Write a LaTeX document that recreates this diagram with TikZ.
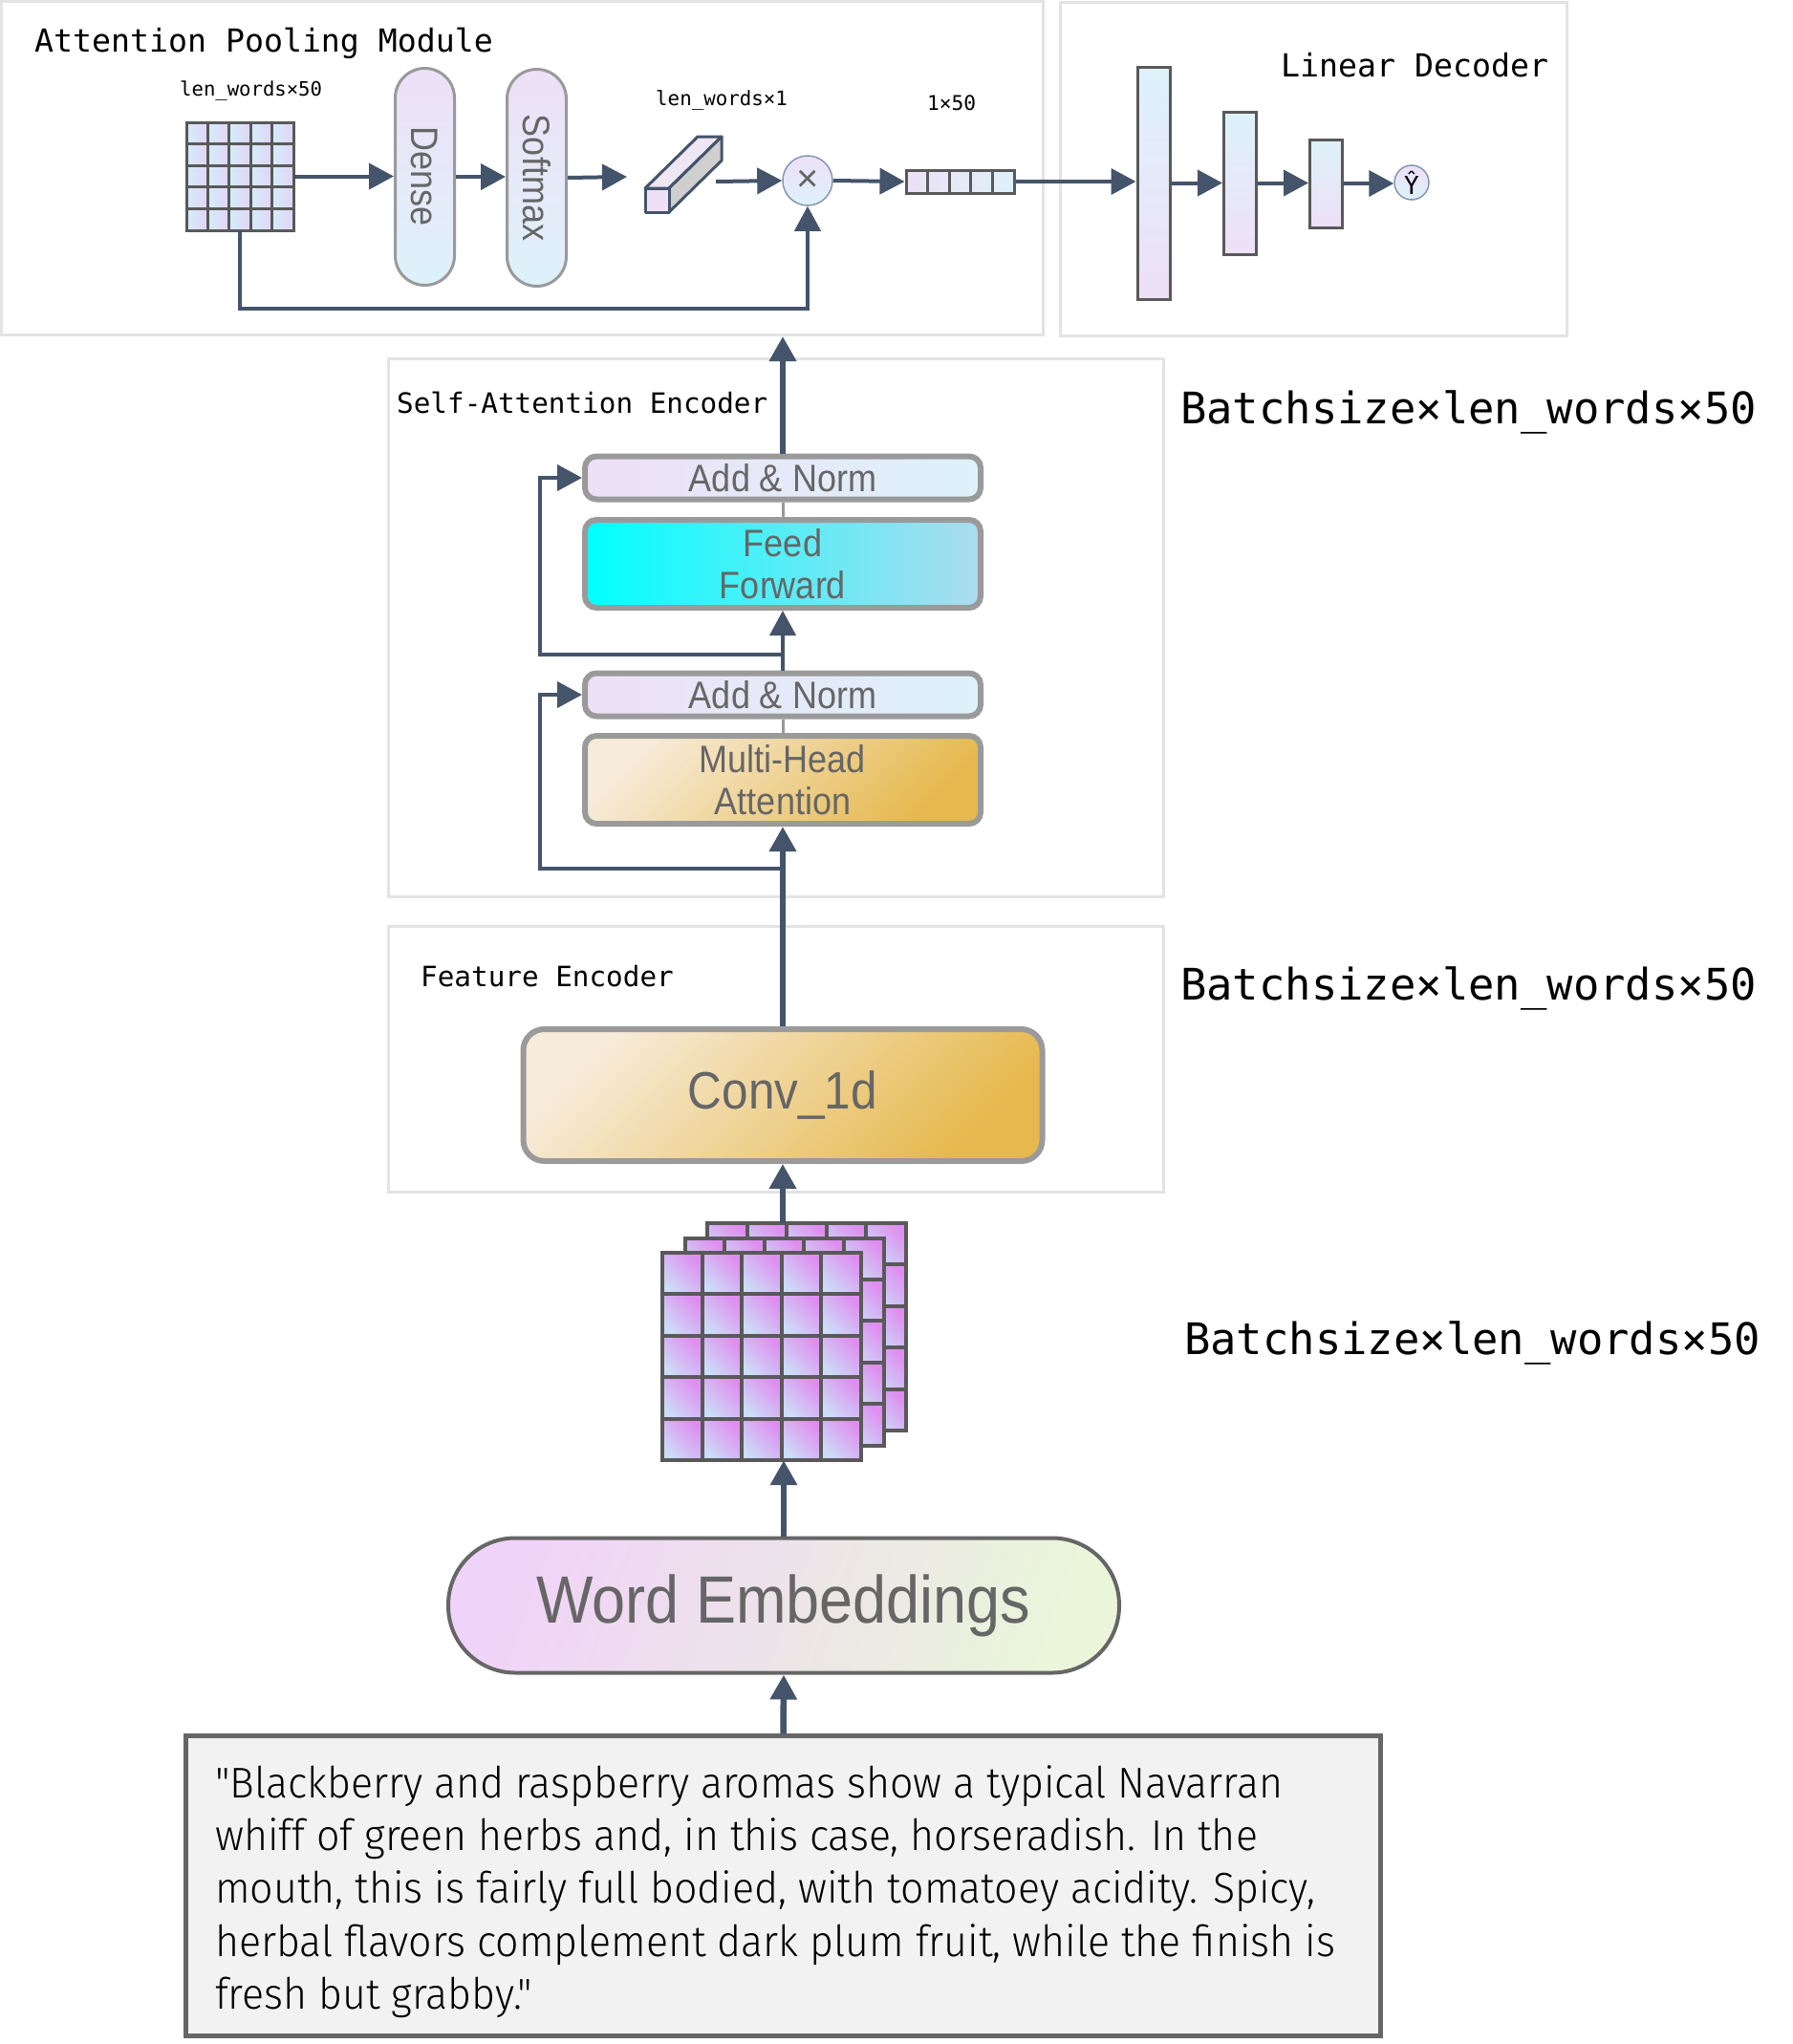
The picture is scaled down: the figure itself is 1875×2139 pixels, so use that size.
\documentclass[tikz,border=0pt]{standalone}
\usepackage{fontspec}
\usepackage{graphicx}
\setmainfont{Liberation Sans}
\newfontfamily\nodefont[FakeStretch=0.9]{Liberation Sans}
\newfontfamily\monofont{DejaVu Sans Mono}
\newfontfamily\lightfont[FakeStretch=0.953]{Fira Sans Light}
\usetikzlibrary{arrows.meta,calc}
\definecolor{linec}{HTML}{44546A}
\definecolor{grpc}{HTML}{E3E3E3}
\definecolor{nbord}{HTML}{9A9A9A}
\definecolor{ntext}{HTML}{666666}
\definecolor{dbord}{HTML}{666666}
\definecolor{gridc}{HTML}{595959}
\definecolor{lav}{HTML}{EEE0F7}
\definecolor{lcyan}{HTML}{DDF2FA}
\definecolor{beige}{HTML}{F7EBD9}
\definecolor{gold}{HTML}{E6B94E}
\definecolor{cyanA}{HTML}{00FFFF}
\definecolor{cyanB}{HTML}{ADDBEE}
\definecolor{pinkA}{HTML}{F0D3F8}
\definecolor{greenB}{HTML}{EAF5DA}
\definecolor{boxgray}{HTML}{F2F2F2}
\definecolor{cellA}{HTML}{CBDDF7}
\definecolor{cellB}{HTML}{DF8DF0}
\definecolor{matA}{HTML}{D3EEFA}
\definecolor{matB}{HTML}{E3D3F5}
\definecolor{circb}{HTML}{8497B0}
\definecolor{topface}{HTML}{EEE6F3}
\definecolor{sideface}{HTML}{CFCFCF}
\tikzset{
  grp/.style={draw=grpc, line width=3pt, inner sep=0pt},
  conn/.style={draw=linec, line width=4pt, -{Triangle[length=26pt,width=27pt]}},
  mainln/.style={draw=linec, line width=6.5pt, -{Triangle[length=26pt,width=27pt]}},
  joinln/.style={draw=nbord, line width=3pt},
  blk/.style={draw=nbord, line width=6pt, rounded corners=12pt, text=ntext, inner sep=0pt, align=center,
    minimum width=414pt, font=\nodefont\fontsize{40}{44}\selectfont},
  addnorm/.style={blk, minimum height=45pt, left color=lav, right color=lcyan},
  goldblk/.style={top color=beige, bottom color=gold, shading angle=45},
  pill/.style={draw=nbord, line width=3pt, minimum width=62pt, minimum height=227pt, rounded corners=31pt,
    top color=lav, bottom color=lcyan, text=ntext, inner sep=0pt, font=\nodefont\fontsize{40}{40}\selectfont},
  dbar/.style={draw=gridc, line width=3pt, minimum width=34pt, inner sep=0pt, top color=lcyan, bottom color=lav},
  gridline/.style={draw=gridc, line width=4pt, line cap=rect},
  lbl/.style={inner sep=0pt, anchor=base west, text=black},
}
\begin{document}
\begin{tikzpicture}[x=1pt,y=-1pt]
\useasboundingbox (0,0) rectangle (1875,2139);

% ---------- group boxes ----------
\node[grp, minimum width=1090pt, minimum height=349pt] (apm) at (546.5,176) {};
\node[grp, minimum width=530pt, minimum height=349pt] (ldec) at (1374.5,177) {};
\node[grp, minimum width=811pt, minimum height=563pt] (sae) at (812,657) {};
\node[grp, minimum width=811pt, minimum height=278pt] (fenc) at (812,1108.5) {};

\node[lbl, font=\monofont\fontsize{33.2}{36}\selectfont] (t1) at (36,54) {Attention Pooling Module};
\node[lbl, font=\monofont\fontsize{33.2}{36}\selectfont] (t2) at (1340,80) {Linear Decoder};
\node[lbl, font=\monofont\fontsize{29.3}{32}\selectfont] (t3) at (415,432) {Self-Attention Encoder};
\node[lbl, font=\monofont\fontsize{29.3}{32}\selectfont] (t4) at (440,1032) {Feature Encoder};

\node[lbl, font=\monofont\fontsize{45.5}{48}\selectfont] (b1) at (1235,443) {Batchsize×len\_words×50};
\node[lbl, font=\monofont\fontsize{45.5}{48}\selectfont] (b2) at (1235,1046) {Batchsize×len\_words×50};
\node[lbl, font=\monofont\fontsize{45.5}{48}\selectfont] (b3) at (1239,1417) {Batchsize×len\_words×50};

\node[lbl, font=\monofont\fontsize{20.6}{22}\selectfont] (s1) at (188,100) {len\_words×50};
\node[lbl, font=\monofont\fontsize{20.8}{22}\selectfont] (s2) at (686,110) {len\_words×1};
\node[lbl, font=\monofont\fontsize{21.2}{22}\selectfont] (s3) at (970,115) {1×50};

% ---------- attention pooling ----------
\node[minimum width=112pt, minimum height=113pt, inner sep=0pt] (mat) at (251,184.5) {};
\foreach \i in {0,...,4} \foreach \j in {0,...,4}
  \shade[left color=matA, right color=matB] (195+\i*22.4,128+\j*22.6) rectangle ++(22.4,22.6);
\foreach \i in {0,...,5} \draw[draw=gridc, line width=3pt, line cap=rect] (195+\i*22.4,128) -- ++(0,113);
\foreach \j in {0,...,5} \draw[draw=gridc, line width=3pt, line cap=rect] (195,128+\j*22.6) -- ++(112,0);

\node[pill] (dense) at (444.5,185) {\rotatebox{-90}{Dense}};
\node[pill] (soft) at (561.5,186) {\rotatebox{-90}{Softmax}};

% prism
\filldraw[fill=topface, draw=linec, line width=3pt, line join=round] (675,197) -- (730,143) -- (755,143) -- (700,197) -- cycle;
\filldraw[fill=sideface, draw=linec, line width=3pt, line join=round] (700,197) -- (755,143) -- (755,168) -- (700,222) -- cycle;
\filldraw[fill=lav, draw=linec, line width=3pt, line join=round] (675,197) rectangle (700,222);
\coordinate (barin) at (656,185);
\coordinate (barout) at (749,190);

\node[circle, draw=circb, line width=1.5pt, minimum size=52pt, inner sep=0pt, top color=lav, bottom color=lcyan,
  text=ntext, font=\fontsize{40}{40}\selectfont] (mul) at (845,189) {×};

\node[draw=gridc, line width=3pt, minimum width=113pt, minimum height=24pt, inner sep=0pt, left color=lav, right color=lcyan] (vec) at (1004.5,190) {};
\foreach \i in {1,...,4} \draw[draw=gridc, line width=3pt] (948+\i*22.6,178) -- ++(0,24);

\node[dbar, minimum height=243pt] (d1) at (1207,191.5) {};
\node[dbar, minimum height=149pt] (d2) at (1297.5,191.5) {};
\node[dbar, minimum height=92pt] (d3) at (1387.5,192) {};
\node[circle, draw=circb, line width=1.5pt, minimum size=36pt, inner sep=0pt, top color=lav, bottom color=lcyan,
  font=\monofont\fontsize{26}{26}\selectfont] (yhat) at (1477,191) {Ŷ};

\draw[conn] (mat.east) -- (mat.east -| dense.west);
\draw[conn] (dense.east) -- (dense.east -| soft.west);
\draw[conn] (soft.east) -- (barin);
\draw[conn] (barout) -- (mul.west);
\draw[conn] (mul.east) -- (vec.west);
\coordinate (fb) at (845,323);
\draw[conn] (mat.south) |- (fb) -- (mul.south);
\draw[conn] (vec.east) -- (vec.east -| d1.west);
\draw[conn] (d1.east) -- (d1.east -| d2.west);
\draw[conn] (d2.east) -- (d2.east -| d3.west);
\draw[conn] (d3.east) -- (d3.east -| yhat.west);

% ---------- self-attention encoder ----------
\node[addnorm] (an2) at (819,500) {Add \& Norm};
\node[blk, minimum height=92pt, left color=cyanA, right color=cyanB] (ff) at (819,590) {Feed\\Forward};
\node[addnorm] (an1) at (819,727) {Add \& Norm};
\node[blk, minimum height=92pt, goldblk] (mha) at (819,816) {Multi-Head\\Attention};

% ---------- feature encoder ----------
\node[blk, minimum width=543pt, minimum height=138pt, rounded corners=22pt, goldblk,
  font=\nodefont\fontsize{55}{60}\selectfont] (conv) at (819,1146) {Conv\_1d};

% ---------- stacked grids ----------
\foreach \k in {2,1,0} {
  \pgfmathsetmacro\ox{693+23.5*\k}
  \pgfmathsetmacro\oy{1311-15.5*\k}
  \foreach \i in {0,...,4} \foreach \j in {0,...,4}
    \shade[top color=cellA, bottom color=cellB, shading angle=135] (\ox+\i*41.6,\oy+\j*43.4) rectangle ++(41.6,43.4);
  \foreach \i in {0,...,5} \draw[gridline] (\ox+\i*41.6,\oy) -- ++(0,217);
  \foreach \j in {0,...,5} \draw[gridline] (\ox,\oy+\j*43.4) -- ++(208,0);
}
\node[minimum width=208pt, minimum height=217pt, inner sep=0pt] (g1) at (797,1419.5) {};
\node[minimum width=208pt, minimum height=217pt, inner sep=0pt] (g3) at (844,1388.5) {};

% ---------- word embeddings & text ----------
\node[draw=dbord, line width=4pt, minimum width=702pt, minimum height=141pt, rounded corners=70pt, inner sep=0pt,
  top color=pinkA, bottom color=greenB, shading angle=70, text=ntext,
  font=\nodefont\fontsize{70}{74}\selectfont] (we) at (820,1680) {Word Embeddings};

\node[draw=dbord, fill=boxgray, line width=5pt, minimum width=1250pt, minimum height=314pt, inner sep=0pt] (qbox) at (819.5,1973.5) {};
\node[anchor=north west, inner sep=0pt, align=left, font=\lightfont\fontsize{45}{55.3}\selectfont] (quote) at (225,1847)
{"Blackberry and raspberry aromas show a typical Navarran\\
whiff of green herbs and, in this case, horseradish. In the\\
mouth, this is fairly full bodied, with tomatoey acidity. Spicy,\\
herbal flavors complement dark plum fruit, while the finish is\\
fresh but grabby."};

% ---------- main connectors ----------
\draw[mainln] (qbox.north) -- (we.south);
\draw[mainln] (we.north) -- (we.north |- g1.south);
\draw[mainln] (conv.south |- g3.north) -- (conv.south);
\draw[mainln] (conv.north) -- (mha.south);
\coordinate (r1) at (819,909);
\coordinate (k1) at (565,909);
\draw[conn] (r1) -- (k1) |- (an1.west);
\draw[joinln] (mha.north) -- (an1.south);
\draw[conn] (an1.north) -- (ff.south);
\coordinate (r2) at (819,685);
\coordinate (k2) at (565,685);
\draw[conn] (r2) -- (k2) |- (an2.west);
\draw[joinln] (ff.north) -- (an2.south);
\draw[mainln] (an2.north) -- (an2.north |- apm.south);
\end{tikzpicture}
\end{document}
